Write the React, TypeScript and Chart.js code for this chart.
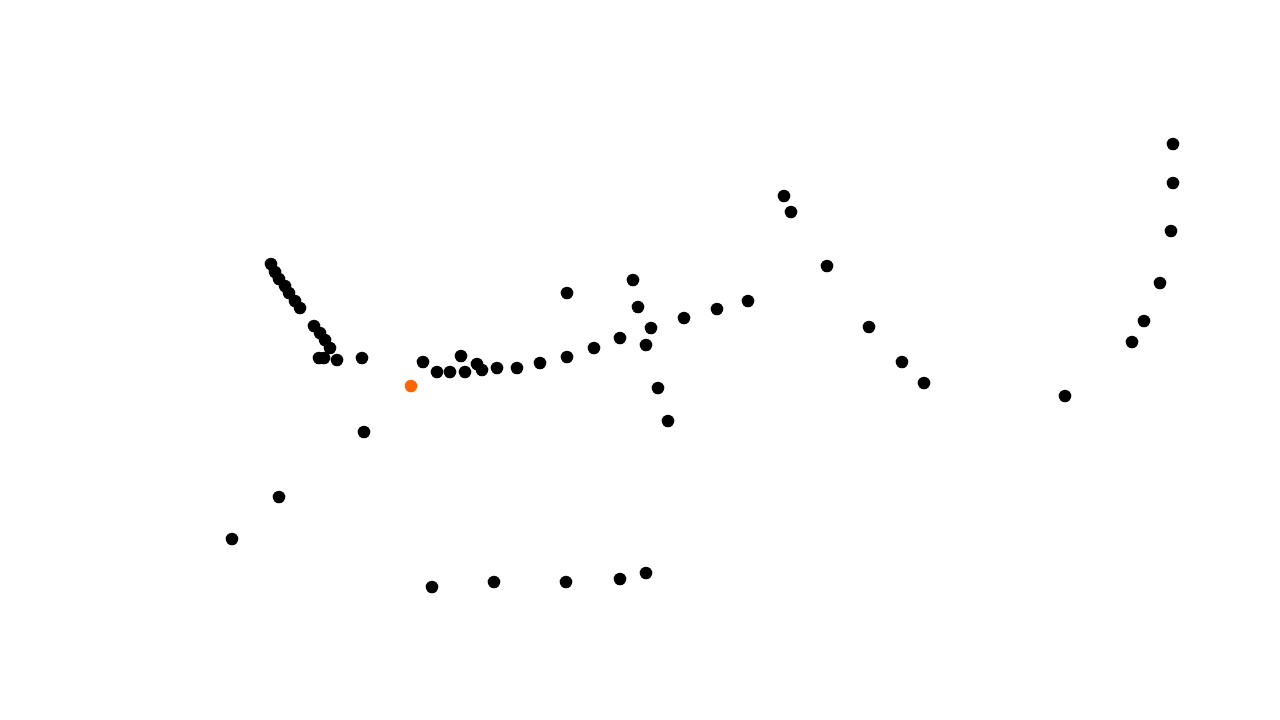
import React, { useEffect, useRef } from "react";
import { Chart, registerables } from "chart.js";

Chart.register(...registerables);

// Values (x to the right, y downward; no axes shown)
const mainX = [
  271, 275, 279, 285, 289, 295, 300, 314, 320, 325, 330, 319, 324, 337, 362,
  423, 437, 450, 461, 465, 477, 482, 497, 517, 540,
  567, 633, 638, 684, 651, 620, 646, 594, 567, 658, 668,
  717, 748, 784, 791, 827, 869, 902, 924, 1065,
  1173, 1173, 1171, 1160, 1144, 1132,
  232, 279, 364, 432, 494, 566, 620, 646,
];
const mainY = [
  264, 272, 279, 286, 293, 301, 308, 326, 333, 340, 348, 358, 358, 360, 358,
  362, 372, 372, 356, 372, 364, 370, 368, 368, 363,
  293, 280, 307, 318, 328, 338, 345, 348, 357, 388, 421,
  309, 301, 196, 212, 266, 327, 362, 383, 396,
  144, 183, 231, 283, 321, 342,
  539, 497, 432, 587, 582, 582, 579, 573,
];
const highlightX = [411];
const highlightY = [386];

const X_MIN = 0;
const X_MAX = 1280;
const Y_MIN = 0;
const Y_MAX = 720;

export default function App() {
  const ref = useRef<HTMLCanvasElement>(null);
  useEffect(() => {
    if (!ref.current) return;
    const chart = new Chart(ref.current, {
      type: "scatter",
      data: {
        datasets: [
          {
            data: highlightX.map((x, i) => ({ x, y: highlightY[i] })),
            backgroundColor: "#ff6600",
            borderWidth: 0,
            pointRadius: 6.3,
          },
          {
            data: mainX.map((x, i) => ({ x, y: mainY[i] })),
            backgroundColor: "#000000",
            borderWidth: 0,
            pointRadius: 6.3,
          },
        ],
      },
      options: {
        animation: false,
        responsive: false,
        layout: { padding: 0, autoPadding: false },
        plugins: { legend: { display: false }, tooltip: { enabled: false } },
        scales: {
          x: { type: "linear", min: X_MIN, max: X_MAX, display: false },
          y: { type: "linear", min: Y_MIN, max: Y_MAX, reverse: true, display: false },
        },
      },
    });
    return () => chart.destroy();
  }, []);
  return (
    <div style={{ position: "fixed", left: 0, top: 0, width: 1280, height: 720, background: "#fff" }}>
      <canvas ref={ref} width={1280} height={720} style={{ display: "block" }} />
    </div>
  );
}
